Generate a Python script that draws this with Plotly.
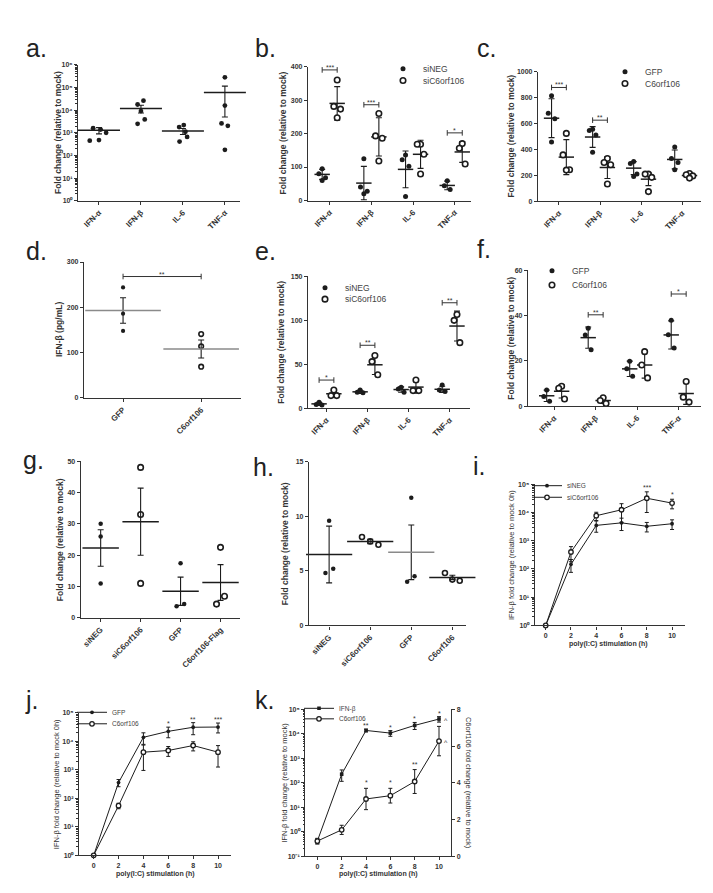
import math
import plotly.graph_objects as go

W, H = 713, 893

# ---------------- data ----------------
CYTOKINES = ["IFN-α", "IFN-β", "IL-6", "TNF-α"]

# a. fold change (log), 5 replicates, mean ± SEM
A_VALUES = [[1600, 1400, 1000, 450, 480],
            [17800, 26300, 9100, 2500, 3900],
            [1800, 2200, 1120, 660, 410],
            [282000, 16000, 2600, 2050, 178]]
A_MEAN = [1300, 12000, 1200, 60000]
A_SEM = [400, 4500, 360, 55000]

# b. siNEG vs siC6orf106, mean ± SD
B_SINEG = [[95, 80, 68, 60], [125, 40, 28, 20], [136, 122, 102, 12], [59, 44, 33]]
B_SINEG_MEAN = [78, 52, 93, 45]
B_SINEG_SD = [15, 50, 55, 13]
B_SIC = [[360, 281, 273, 247], [260, 193, 186, 118], [168, 168, 138, 79], [170, 156, 109]]
B_SIC_MEAN = [290, 190, 138, 145]
B_SIC_SD = [50, 57, 42, 31]
B_SIG = ["***", "***", "", "*"]
B_SIG_Y = [390, 286, None, 202]

# c. GFP vs C6orf106
C_GFP = [[814, 679, 635, 457], [554, 546, 510, 378], [306, 291, 209, 191], [418, 330, 298, 242]]
C_GFP_MEAN = [640, 495, 255, 322]
C_GFP_SD = [150, 80, 50, 73]
C_C6 = [[523, 357, 242, 240], [329, 298, 281, 133], [209, 209, 184, 74], [214, 204, 195, 178]]
C_C6_MEAN = [340, 260, 170, 198]
C_C6_SD = [135, 85, 50, 17]
C_SIG = ["***", "**", "", ""]
C_SIG_Y = [877, 625, None, None]

# d. IFN-β (pg/mL)
D_CATS = ["GFP", "C6orf106"]
D_VALUES = [[244, 186, 148], [141, 114, 69]]
D_MEAN = [193, 108]
D_SEM = [28, 20]
D_SIG = "**"
D_SIG_Y = 268

# e.
E_SINEG = [[6.8, 4.1, 3.6], [20.7, 18, 17.5], [23.7, 21.9, 18], [26.4, 20.7, 19]]
E_SINEG_MEAN = [4.9, 18.6, 21.2, 21.5]
E_SINEG_SD = [1.7, 1.8, 3, 3.5]
E_SIC = [[20.7, 14.3, 14.3], [60, 53, 38], [32, 20, 20], [106.7, 100, 74.6]]
E_SIC_MEAN = [16.4, 49.4, 24, 93.5]
E_SIC_SD = [3.7, 11, 7, 17]
E_SIG = ["*", "**", "", "**"]
E_SIG_Y = [32, 71.6, None, 120]

# f.
F_GFP = [[7.2, 4.3, 2.2], [34.4, 31.5, 25], [19.9, 16.5, 13.2], [38, 31.6, 25.7]]
F_GFP_MEAN = [4.6, 30.3, 16.5, 31.5]
F_GFP_SD = [2.5, 4.7, 3.4, 6.2]
F_C6 = [[8.8, 7.9, 3.2], [3.7, 2.5, 1.2], [24.1, 18.2, 12.5], [10.9, 4, 1.8]]
F_C6_MEAN = [6.6, 2.5, 18.2, 5.6]
F_C6_SD = [3, 1.3, 5.8, 4.8]
F_SIG = ["", "**", "", "*"]
F_SIG_Y = [None, 40.4, None, 49.6]

# g.
G_CATS = ["siNEG", "siC6orf106", "GFP", "C6orf106-Flag"]
G_VALUES = [[30, 26, 11], [48, 33, 11], [17.4, 3.7, 4.4], [22.5, 4.4, 6.9]]
G_MEAN = [22.3, 30.7, 8.5, 11.3]
G_SEM = [5.8, 10.7, 4.5, 5.7]

# h.
H_CATS = ["siNEG", "siC6orf106", "GFP", "C6orf106"]
H_VALUES = [[9.6, 5.2, 4.8], [8.1, 7.7, 7.4], [11.7, 4.5, 4.0], [4.8, 4.2, 4.1]]
H_MEAN = [6.5, 7.7, 6.7, 4.4]
H_SEM = [2.6, 0.2, 2.5, 0.2]

# i. time course
TIME = [0, 2, 4, 6, 8, 10]
I_SINEG = [1, 146, 3500, 4300, 3250, 4000]
I_SINEG_ERR = [0, 70, 1500, 2000, 1200, 1500]
I_SIC = [1, 400, 7700, 12500, 32000, 21500]
I_SIC_ERR = [0, 220, 2500, 8000, 22000, 8000]
I_SIG = ["", "", "", "", "***", "*"]

# j.
J_GFP = [1, 355, 13800, 22300, 31000, 31600]
J_GFP_ERR = [0, 100, 6000, 9000, 14000, 12000]
J_C6 = [1, 55, 4150, 4750, 7100, 4150]
J_C6_ERR = [0, 12, 3200, 1800, 2500, 2900]
J_SIG = ["", "", "", "*", "**", "***"]

# k.
K_IFNB = [0.42, 225, 13700, 10700, 22000, 40000]
K_IFNB_ERR = [0.1, 110, 1800, 2800, 7000, 10000]
K_C6 = [0.83, 1.44, 3.12, 3.3, 4.07, 6.27]
K_C6_ERR = [0.15, 0.25, 0.58, 0.4, 0.65, 0.8]
K_IFNB_SIG = ["", "", "**", "*", "*", "*"]
K_C6_SIG = ["", "", "*", "*", "**", ""]

# ---------------- style ----------------
FONT = "Liberation Sans, Arial, sans-serif"
INK = "#1c1c1c"
AX = "#333333"
GRAY = "#8a8a8a"
JIT = {3: [0.0, -0.07, 0.07], 4: [0.0, -0.08, 0.08, 0.0]}
A_JIT = [[-0.14, 0.04, 0.17, -0.22, 0.0], [-0.08, 0.06, 0.0, -0.08, 0.09],
         [-0.09, 0.02, 0.06, 0.1, -0.08], [0.0, 0.0, -0.08, 0.07, 0.0]]
D_JIT = [[0, 0, 0], [0, 0, 0]]
G_JIT = [[0, 0, 0], [0, 0, 0], [0, -0.1, 0.09], [0, -0.1, 0.1]]
H_JIT = [[0, 0.1, -0.09], [-0.2, 0, 0.2], [0, 0.08, -0.1], [-0.18, 0.0, 0.18]]
SUP = {"-": "⁻", "0": "⁰", "1": "¹", "2": "²", "3": "³", "4": "⁴", "5": "⁵", "6": "⁶"}

fig = go.Figure()


def ids(n):
    return ("x" if n == 1 else f"x{n}", "y" if n == 1 else f"y{n}")


def lay_ids(n):
    return ("xaxis" if n == 1 else f"xaxis{n}", "yaxis" if n == 1 else f"yaxis{n}")


def common(size):
    return dict(showline=True, linecolor=AX, linewidth=1.2, ticks="outside", ticklen=3,
                tickwidth=1, tickcolor=AX, showgrid=False, zeroline=False,
                tickfont=dict(family=FONT, size=size, color=AX, weight="bold"))


def log_ticks(lo, hi):
    vals = [10.0 ** k for k in range(lo, hi + 1)]
    text = ["10" + "".join(SUP[c] for c in str(k)) for k in range(lo, hi + 1)]
    minor = [m * 10.0 ** k for k in range(lo, hi) for m in range(2, 10)]
    return vals, text, minor


def set_axes(n, box, xr, yr, xtv, xtt, ytv, ytt, ylog=False, xangle=-45, xfont=8, yminor=None):
    x0, x1, y0, y1 = box
    xn, yn = lay_ids(n)
    xid, yid = ids(n)
    xa = dict(domain=[x0 / W, x1 / W], range=xr, anchor=yid, tickvals=xtv, ticktext=xtt,
              tickangle=xangle, **common(xfont))
    ya = dict(domain=[1 - y1 / H, 1 - y0 / H], range=yr, anchor=xid, tickvals=ytv,
              ticktext=ytt, **common(7))
    if ylog:
        ya["type"] = "log"
    if yminor:
        ya["minor"] = dict(tickvals=yminor, ticks="outside", ticklen=1.5, tickwidth=0.8,
                           tickcolor=AX)
    fig.update_layout(**{xn: xa, yn: ya})


def dot(filled, msize, osize):
    if filled:
        return dict(symbol="circle", size=msize, color=INK, line=dict(width=0))
    return dict(symbol="circle", size=osize, color="white", line=dict(width=1.6, color=INK))


def bracket(n, x0, x1, y, text):
    xid, yid = ids(n)
    fig.add_trace(go.Scatter(x=[x0, x1], y=[y, y], mode="lines+markers",
                             line=dict(color=AX, width=1),
                             marker=dict(symbol="line-ns", size=4, line=dict(width=1, color=AX)),
                             hoverinfo="skip", showlegend=False, xaxis=xid, yaxis=yid,
                             cliponaxis=False))
    fig.add_annotation(x=(x0 + x1) / 2, y=y, xref=xid, yref=yid, text=text, showarrow=False,
                       yanchor="bottom", yshift=-3,
                       font=dict(size=7, color=AX, family=FONT))


def mean_err(n, xs, means, errs, length, color):
    xid, yid = ids(n)
    fig.add_trace(go.Scatter(x=xs, y=means, mode="markers",
                             marker=dict(symbol="line-ew", size=length,
                                         line=dict(width=1.5, color=color)),
                             error_y=dict(type="data", array=errs, width=3, thickness=1.1,
                                          color=INK),
                             showlegend=False, hoverinfo="skip", xaxis=xid, yaxis=yid,
                             cliponaxis=False))


def grouped(n, groups, sig, sig_y):
    xid, yid = ids(n)
    for vals, means, errs, filled, off, name, lid in groups:
        mean_err(n, [i + off for i in range(len(means))], means, errs, 11, INK)
        for i, v in enumerate(vals):
            xs = [i + off + j for j in JIT[len(v)]]
            fig.add_trace(go.Scatter(x=xs, y=v, mode="markers", marker=dot(filled, 5, 5.5),
                                     name=name, showlegend=(i == 0), legend=lid,
                                     xaxis=xid, yaxis=yid, cliponaxis=False))
    for i, (t, y) in enumerate(zip(sig, sig_y)):
        if t:
            bracket(n, i - 0.18, i + 0.18, y, t)


def single(n, vals, means, errs, filled, jits, length, mcolors, msize, osize):
    xid, yid = ids(n)
    for i, v in enumerate(vals):
        xs = [i + j for j in jits[i]]
        fig.add_trace(go.Scatter(x=xs, y=v, mode="markers", marker=dot(filled[i], msize, osize),
                                 showlegend=False, xaxis=xid, yaxis=yid, cliponaxis=False))
    for i in range(len(means)):
        mean_err(n, [i], [means[i]], [errs[i]], length, mcolors[i])


def legend_box(lid, x, yc, size):
    # one entry per legend: entry centre sits 14.5 px below the legend top
    fig.update_layout(**{lid: dict(x=x / W, y=1 - (yc - 14.5) / H, xanchor="left",
                                   yanchor="top", bgcolor="rgba(0,0,0,0)", borderwidth=0,
                                   itemwidth=30, tracegroupgap=0,
                                   font=dict(family=FONT, size=size, color="#444"))})


def letter(t, x, base, size=25):
    fig.add_annotation(x=x / W, y=1 - (base - 0.35 * size) / H, xref="paper", yref="paper",
                       text=t, showarrow=False, xanchor="left", yanchor="middle",
                       font=dict(size=size, color="#222", family=FONT))


def title(t, x, yc, size=8.5, bold=True, angle=-90):
    fig.add_annotation(x=x / W, y=1 - yc / H, xref="paper", yref="paper", text=t,
                       textangle=angle, showarrow=False, xanchor="center", yanchor="middle",
                       font=dict(size=size, color="#333", family=FONT,
                                 weight="bold" if bold else "normal"))


def timecourse(n, yid_override, y, err, filled, symbol, name, lid, size):
    xid, yid = ids(n)
    if yid_override:
        yid = yid_override
    if filled:
        mk = dict(symbol=symbol, size=size, color=INK, line=dict(width=0))
    else:
        mk = dict(symbol=symbol, size=size, color="white", line=dict(width=1.3, color=INK))
    fig.add_trace(go.Scatter(x=TIME, y=y, mode="lines+markers", name=name, legend=lid,
                             line=dict(color=INK, width=1), marker=mk,
                             error_y=dict(type="data", array=err, width=2, thickness=1,
                                          color=INK),
                             xaxis=xid, yaxis=yid, cliponaxis=False))


def sig_marks(xid, yid, y, err, sigs, log=True, yshift=-2):
    for t, v, e, s in zip(TIME, y, err, sigs):
        if s:
            top = v + e
            fig.add_annotation(x=t, y=math.log10(top) if log else top, xref=xid, yref=yid,
                               text=s, showarrow=False, yanchor="bottom", yshift=yshift,
                               font=dict(size=7, color=AX, family=FONT))


# ---------------- panel a ----------------
tv, tt, mn = log_ticks(0, 6)
set_axes(1, (70, 232, 53.3, 190.3), [-0.5, 3.36], [0, 6], list(range(4)), CYTOKINES,
         tv, tt, ylog=True, yminor=mn)
single(1, A_VALUES, A_MEAN, A_SEM, [True] * 4, A_JIT, 30, [INK] * 4, 4.8, 5)

# ---------------- panel b ----------------
set_axes(2, (300, 463, 55, 190), [-0.52, 3.39], [0, 400], list(range(4)), CYTOKINES,
         [0, 100, 200, 300, 400], ["0", "100", "200", "300", "400"])
grouped(2, [(B_SINEG, B_SINEG_MEAN, B_SINEG_SD, True, -0.18, "siNEG", "legend"),
            (B_SIC, B_SIC_MEAN, B_SIC_SD, False, 0.18, "siC6orf106", "legend2")],
        B_SIG, B_SIG_Y)
legend_box("legend", 375, 57, 8.5)
legend_box("legend2", 375, 69, 8.5)

# ---------------- panel c ----------------
set_axes(3, (530, 693, 60, 190.7), [-0.51, 3.46], [0, 1000], list(range(4)), CYTOKINES,
         [0, 200, 400, 600, 800, 1000], ["0", "200", "400", "600", "800", "1000"])
grouped(3, [(C_GFP, C_GFP_MEAN, C_GFP_SD, True, -0.18, "GFP", "legend3"),
            (C_C6, C_C6_MEAN, C_C6_SD, False, 0.18, "C6orf106", "legend4")],
        C_SIG, C_SIG_Y)
legend_box("legend3", 597, 60, 8.5)
legend_box("legend4", 597, 72, 8.5)

# ---------------- panel d ----------------
set_axes(4, (76, 233, 252, 389), [-0.5, 1.51], [0, 300], [0, 1], D_CATS,
         [0, 100, 200, 300], ["0", "100", "200", "300"])
single(4, D_VALUES, D_MEAN, D_SEM, [True, False], D_JIT, 54, [GRAY, GRAY], 4.2, 4.6)
bracket(4, 0, 1, D_SIG_Y, D_SIG)

# ---------------- panel e ----------------
set_axes(5, (300, 461.7, 266.5, 399.3), [-0.45, 3.49], [0, 150], list(range(4)), CYTOKINES,
         [0, 50, 100, 150], ["0", "50", "100", "150"])
grouped(5, [(E_SINEG, E_SINEG_MEAN, E_SINEG_SD, True, -0.18, "siNEG", "legend5"),
            (E_SIC, E_SIC_MEAN, E_SIC_SD, False, 0.18, "siC6orf106", "legend6")],
        E_SIG, E_SIG_Y)
legend_box("legend5", 297, 277.7, 8.5)
legend_box("legend6", 297, 289.3, 8.5)

# ---------------- panel f ----------------
set_axes(6, (520, 692.7, 260.5, 397.3), [-0.63, 3.53], [0, 60], list(range(4)), CYTOKINES,
         [0, 20, 40, 60], ["0", "20", "40", "60"])
grouped(6, [(F_GFP, F_GFP_MEAN, F_GFP_SD, True, -0.18, "GFP", "legend7"),
            (F_C6, F_C6_MEAN, F_C6_SD, False, 0.18, "C6orf106", "legend8")],
        F_SIG, F_SIG_Y)
legend_box("legend7", 524, 260.7, 8.5)
legend_box("legend8", 524, 275, 8.5)

# ---------------- panel g ----------------
set_axes(7, (72.7, 231.7, 452.7, 610.7), [-0.5, 3.48], [0, 50], list(range(4)), G_CATS,
         [0, 10, 20, 30, 40, 50], ["0", "10", "20", "30", "40", "50"])
single(7, G_VALUES, G_MEAN, G_SEM, [True, False, True, False], G_JIT, 26, [INK] * 4, 4.5, 5.5)

# ---------------- panel h ----------------
set_axes(8, (301, 458.3, 453.3, 618.3), [-0.49, 3.34], [0, 15], list(range(4)), H_CATS,
         [0, 5, 10, 15], ["0", "5", "10", "15"])
single(8, H_VALUES, H_MEAN, H_SEM, [True, False, True, False], H_JIT, 33,
       [INK, INK, GRAY, INK], 4.5, 5)

# ---------------- panel i ----------------
tv, tt, mn = log_ticks(0, 5)
set_axes(9, (526.7, 676.7, 476, 618.3), [-0.87, 11], [0, 5], TIME, [str(t) for t in TIME],
         tv, tt, ylog=True, xangle=0, xfont=7, yminor=mn)
timecourse(9, None, I_SINEG, I_SINEG_ERR, True, "circle", "siNEG", "legend9", 3.8)
timecourse(9, None, I_SIC, I_SIC_ERR, False, "circle", "siC6orf106", "legend10", 4.5)
sig_marks("x9", "y9", I_SIC, I_SIC_ERR, I_SIG, yshift=-1)
legend_box("legend9", 519, 477.3, 6.5)
legend_box("legend10", 519, 489, 6.5)

# ---------------- panel j ----------------
set_axes(10, (71, 222.7, 706.3, 850), [-1.18, 11.02], [0, 5], TIME, [str(t) for t in TIME],
         tv, tt, ylog=True, xangle=0, xfont=7, yminor=mn)
timecourse(10, None, J_GFP, J_GFP_ERR, True, "circle", "GFP", "legend11", 3.8)
timecourse(10, None, J_C6, J_C6_ERR, False, "circle", "C6orf106", "legend12", 4.5)
sig_marks("x10", "y10", J_GFP, J_GFP_ERR, J_SIG)
legend_box("legend11", 64, 705.7, 6.5)
legend_box("legend12", 64, 717.3, 6.5)

# ---------------- panel k ----------------
tv, tt, mn = log_ticks(-1, 5)
set_axes(11, (297.3, 443.3, 702.8, 851), [-0.99, 11.01], [-1, 5], TIME,
         [str(t) for t in TIME], tv, tt, ylog=True, xangle=0, xfont=7, yminor=mn)
fig.update_layout(yaxis12=dict(overlaying="y11", side="right", anchor="x11", range=[0, 8],
                               tickvals=[0, 2, 4, 6, 8], ticktext=["0", "2", "4", "6", "8"],
                               **common(7)))
timecourse(11, None, K_IFNB, K_IFNB_ERR, True, "square", "IFN-β", "legend13", 3.6)
timecourse(11, "y12", K_C6, K_C6_ERR, False, "circle", "C6orf106", "legend14", 4.5)
sig_marks("x11", "y11", K_IFNB, K_IFNB_ERR, K_IFNB_SIG)
sig_marks("x11", "y12", K_C6, K_C6_ERR, K_C6_SIG, log=False, yshift=0)
fig.add_annotation(x=TIME[-1], y=math.log10(K_IFNB[-1]), xref="x11", yref="y11", text="^",
                   showarrow=False, xshift=7, yshift=-1, font=dict(size=7, color=AX, family=FONT))
fig.add_annotation(x=TIME[-1], y=K_C6[-1], xref="x11", yref="y12", text="^",
                   showarrow=False, xshift=7, yshift=-1, font=dict(size=7, color=AX, family=FONT))
legend_box("legend13", 291, 701.7, 6.5)
legend_box("legend14", 291, 712.3, 6.5)

# ---------------- titles ----------------
FC = "Fold change (relative to mock)"
title(FC, 50, 122)
title(FC, 275, 122.5)
title(FC, 503.3, 125.3)
title("IFN-β (pg/mL)", 51, 320.5)
title(FC, 273.3, 333)
title(FC, 503.3, 329)
title(FC, 51.7, 531.7)
title(FC, 276.7, 535.8)
title("IFN-β fold change (relative to mock 0h)", 503.3, 547, size=7.5, bold=False)
title("IFN-β fold change (relative to mock 0h)", 49.3, 778, size=7.5, bold=False)
title("IFN-β fold change (relative to mock)", 276.7, 777, size=7.5, bold=False)
title("C6orf106 fold change (relative to mock)", 460, 777, size=7.5, bold=False, angle=90)
title("poly(I:C) stimulation (h)", 600.3, 636.7, size=7, angle=0)
title("poly(I:C) stimulation (h)", 147, 869, size=7, angle=0)
title("poly(I:C) stimulation (h)", 370.5, 869, size=7, angle=0)

# ---------------- panel letters ----------------
for t, x, b in [("a.", 16, 45), ("b.", 245, 45), ("c.", 467, 45),
                ("d.", 16, 250), ("e.", 245, 250), ("f.", 467, 248),
                ("g.", 13, 460), ("h.", 243, 467), ("i.", 463, 466),
                ("j.", 15, 702), ("k.", 245, 702)]:
    letter(t, x, b)

fig.update_layout(width=W, height=H, autosize=False, margin=dict(l=0, r=0, t=0, b=0),
                  paper_bgcolor="white", plot_bgcolor="white",
                  font=dict(family=FONT, color=AX), hovermode=False)

fig.write_html("out.html")
